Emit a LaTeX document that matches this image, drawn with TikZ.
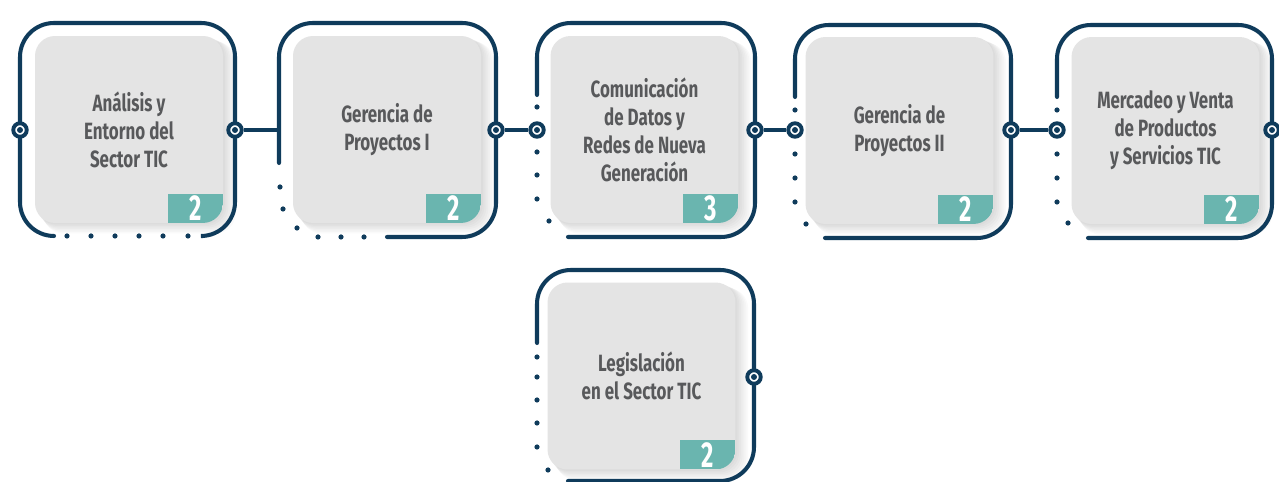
\documentclass[tikz,border=0pt]{standalone}
\usepackage{fontspec}
\newfontfamily\cardfont{Fira Sans}[FakeStretch=0.72]
\newfontfamily\numfont{Fira Sans}[FakeStretch=0.66]
\usetikzlibrary{calc,backgrounds}
\definecolor{navy}{HTML}{0F3B5B}
\definecolor{cardgray}{HTML}{E4E4E4}
\definecolor{tealbadge}{HTML}{6AB5AF}
\definecolor{cardtext}{HTML}{58595B}
\def\badge(#1)(#2){
	\begin{scope}
		\clip[rounded corners=0.4cm] (#1.south west) rectangle (#1.north east);
		\fill[tealbadge] ($(#1.south east)+(-55,-29)$) rectangle (#1.south east);
	\end{scope}
	\node[num] (#1n) at ($(#1.south east)+(-27.5,-14.5)$) {#2};
}

\begin{document}
\begin{tikzpicture}[x=0.02cm, y=-0.02cm,
	card/.style={rectangle, rounded corners=0.4cm, fill=cardgray, minimum width=3.76cm, minimum height=3.74cm, inner sep=0, outer sep=0, align=center, text=cardtext, font=\cardfont\bfseries\fontsize{13.4}{15.9}\selectfont},
	num/.style={text=white, inner sep=0, font=\numfont\bfseries\fontsize{20.5}{20.5}\selectfont},
	frame/.style={draw=navy, line width=2.3pt, rounded corners=0.68cm, line cap=round},
	link/.style={draw=navy, line width=2.2pt},
	port/.style={circle, draw=navy, fill=white, line width=2.2pt, minimum size=0.27cm, inner sep=0, path picture={\fill[navy] (path picture bounding box.center) circle (1.7pt);}}]
	%%%%% START %%%%%
	\useasboundingbox (0,0) rectangle (1279,482);
	
	% cards
	\node[card] (c1) at (129,129.5) {Análisis y\\Entorno del\\Sector TIC};
	\node[card] (c2) at (387,129.5) {Gerencia de\\Proyectos I};
	\node[card] (c3) at (644.5,129.5) {Comunicación\\de Datos y\\Redes de Nueva\\Generación};
	\node[card] (c4) at (899.5,130.5) {Gerencia de\\Proyectos II};
	\node[card] (c5) at (1165.5,130.5) {Mercadeo y Venta\\de Productos\\y Servicios TIC};
	\node[card] (c6) at (641.5,376) {Legislación\\en el Sector TIC};
	
	\begin{scope}[on background layer]
		\fill[white] (0,0) rectangle (1279,482);
		\foreach \c in {c1,c2,c3,c4,c5,c6}
			\foreach \k in {1,...,7}
				\fill[black, opacity=0.02, rounded corners=0.4cm] ($(\c.south west)+(\k*1.2,\k*1.5)$) rectangle ($(\c.north east)+(\k*1.8,\k*0.8)$);
	\end{scope}
	
	% credit badges
	\badge(c1)(2)
	\badge(c2)(2)
	\badge(c3)(3)
	\badge(c4)(2)
	\badge(c5)(2)
	\badge(c6)(2)
	
	% frames
	\draw[frame] (54,236) -- (20,236) -- (20,23) -- (235,23) -- (235,236) -- (203,236);
	\foreach \x/\y in {67/236, 91/236, 115/236, 139/236, 163/236, 188/236}
		\fill[navy] (\x,\y) circle (0.052cm);
	
	\draw[frame] (279,163) -- (279,23) -- (496,23) -- (496,237) -- (387,237);
	\foreach \x/\y in {280/187, 283/209, 297/228, 318/237, 341/237, 364/237}
		\fill[navy] (\x,\y) circle (0.052cm);
	
	\draw[frame] (537,95) -- (537,23) -- (755,23) -- (755,237) -- (568,237);
	\foreach \x/\y in {537/107, 537/152, 537/175, 537/199, 549/221}
		\fill[navy] (\x,\y) circle (0.052cm);
	
	\draw[frame] (795,97) -- (795,25) -- (1011,25) -- (1011,238) -- (825,238);
	\foreach \x/\y in {795/110, 795/154, 795/178, 795/202, 806/224}
		\fill[navy] (\x,\y) circle (0.052cm);
	
	\draw[frame] (1057,97) -- (1057,25) -- (1272,25) -- (1272,238) -- (1088,238);
	\foreach \x/\y in {1057/110, 1057/154, 1057/178, 1057/202, 1068/223}
		\fill[navy] (\x,\y) circle (0.052cm);
	
	\draw[frame] (537,343) -- (537,270) -- (754,270) -- (754,481) -- (568,481);
	\foreach \x/\y in {537/357, 537/377, 537/400, 537/423, 537/447, 548/470}
		\fill[navy] (\x,\y) circle (0.052cm);
	
	% ports
	\node[port] (p1l) at (20,130) {};
	\node[port] (p1r) at (235,130) {};
	\coordinate (j2) at (279,130);
	\node[port] (p2r) at (496,130) {};
	\node[port] (p3l) at (537,130) {};
	\node[port] (p3r) at (755,130) {};
	\node[port] (p4l) at (795,130) {};
	\node[port] (p4r) at (1011,130) {};
	\node[port] (p5l) at (1057,130) {};
	\node[port] (p5r) at (1272,130) {};
	\node[port] (p6r) at (754,377) {};
	
	% links
	\draw[link] (p1r) -- (j2);
	\draw[link] (p2r) -- (p3l);
	\draw[link] (p3r) -- (p4l);
	\draw[link] (p4r) -- (p5l);
	
	%%%%% END %%%%%
\end{tikzpicture}
\end{document}
